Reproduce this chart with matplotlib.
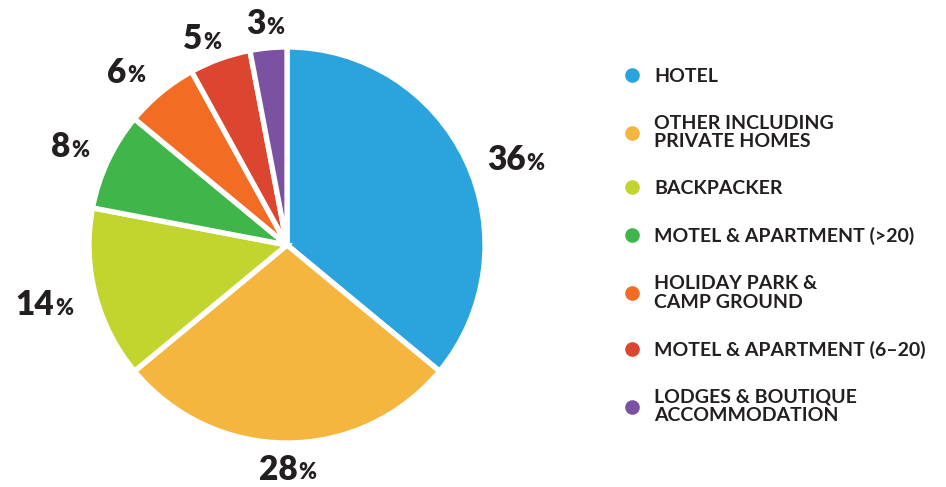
import matplotlib
matplotlib.use("Agg")
import matplotlib.pyplot as plt
from matplotlib.lines import Line2D
from matplotlib.transforms import ScaledTranslation
import numpy as np

categories = ["HOTEL", "OTHER INCLUDING\nPRIVATE HOMES", "BACKPACKER",
              "MOTEL & APARTMENT (>20)", "HOLIDAY PARK &\nCAMP GROUND",
              "MOTEL & APARTMENT (6–20)", "LODGES & BOUTIQUE\nACCOMMODATION"]
values = [36, 28, 14, 8, 6, 5, 3]
colors = ["#2ba3dd", "#f5b63f", "#c2d52f", "#3fb54a", "#f26c23", "#dc4530", "#7b52a1"]
# label placement (style): radial distance and angular nudge in degrees
label_dist = [1.23, 1.135, 1.265, 1.205, 1.19, 1.125, 1.12]
label_nudge = [-4.8, 0, -0.5, 1.0, 3.5, 2.7, 0.3]

plt.rcParams['font.family'] = ['Lato', 'DejaVu Sans']
TXT = "#231f20"

W, H = 946, 487
fig = plt.figure(figsize=(W/100, H/100), dpi=100)
cx, cy, R = 287, 242, 198
ax = fig.add_axes([(cx-R)/W, (cy-R)/H, 2*R/W, 2*R/H])
wedges, _ = ax.pie(values, colors=colors, startangle=90, counterclock=False,
                   wedgeprops=dict(edgecolor="white", linewidth=3.8))
ax.set_xlim(-1, 1); ax.set_ylim(-1, 1)
ax.set_aspect('equal'); ax.axis('off')

pairs = []
for w, v, d, n in zip(wedges, values, label_dist, label_nudge):
    ang = np.deg2rad((w.theta1 + w.theta2) / 2 + n)
    x, y = d*np.cos(ang), d*np.sin(ang)
    t = ax.text(x, y, f"{v}", fontsize=24, fontweight='heavy', color=TXT,
                ha='center', va='center')
    p = ax.annotate("%", xy=(1, 0.08), xycoords=t, xytext=(0.5, 0), textcoords='offset points',
                    fontsize=15.5, fontweight='heavy', color=TXT, ha='left', va='bottom')
    pairs.append((t, p))

fig.canvas.draw()
r = fig.canvas.get_renderer()
for t, p in pairs:
    pw = p.get_window_extent(r).width
    t.set_transform(ax.transData + ScaledTranslation(-pw/2/fig.dpi, 0, fig.dpi_scale_trans))

handles = [Line2D([], [], marker='o', linestyle='none', markersize=9.5,
                  markerfacecolor=c, markeredgecolor=c) for c in colors]
leg = fig.legend(handles, categories, loc='upper left', bbox_to_anchor=(622/W, 1-68/H),
                 frameon=False, fontsize=14, labelspacing=1.54, handletextpad=0.65,
                 handlelength=1.0, borderpad=0, borderaxespad=0)
for t in leg.get_texts():
    t.set_color(TXT); t.set_fontweight('bold'); t.set_linespacing(1.1)

fig.savefig("out.png", dpi=100, facecolor="white")
